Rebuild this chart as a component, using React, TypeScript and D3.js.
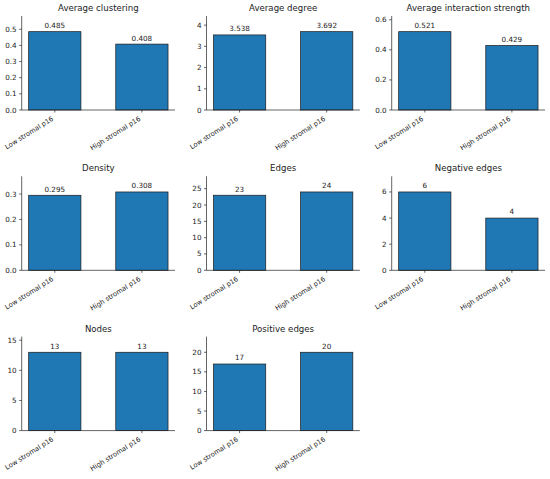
import { useEffect, useRef } from "react"
import * as d3 from "d3"

// One small bar chart per network metric, two groups each
const groups = ["Low stromal p16", "High stromal p16"]
const metrics = [
  "Average clustering",
  "Average degree",
  "Average interaction strength",
  "Density",
  "Edges",
  "Negative edges",
  "Nodes",
  "Positive edges",
]
const lowValues = [0.485, 3.538, 0.521, 0.295, 23, 6, 13, 17]
const highValues = [0.408, 3.692, 0.429, 0.308, 24, 4, 13, 20]
const tickSteps = [0.1, 1, 0.2, 0.1, 5, 2, 5, 5]

const BAR = "#1f77b4"
const INK = "#222"
const FONT = "DejaVu Sans, sans-serif"

export default function App() {
  const ref = useRef<SVGSVGElement>(null)

  useEffect(() => {
    if (!ref.current) return
    const el = ref.current
    d3.select(el).selectAll("*").remove()

    const W = 550
    const H = 479
    const colLeft = [21.7, 206.5, 391.7]
    const rowTop = [16, 176.3, 336.6]
    const plotW = 153.3
    const plotH = 94

    const svg = d3.select(el).attr("width", W).attr("height", H).attr("viewBox", `0 0 ${W} ${H}`)

    metrics.forEach((name, i) => {
      const vals = [lowValues[i], highValues[i]]
      const ox = colLeft[i % 3]
      const oy = rowTop[Math.floor(i / 3)]
      const g = svg.append("g").attr("transform", `translate(${ox},${oy})`)

      // matplotlib-like limits: bars at 0,1 width 0.6, 5% margins; y headroom 20%
      const x = d3.scaleLinear().domain([-0.38, 1.38]).range([0, plotW])
      const ymax = (d3.max(vals) ?? 1) * 1.2
      const y = d3.scaleLinear().domain([0, ymax]).range([plotH, 0])
      const step = tickSteps[i]
      const ticks = d3.range(0, ymax + 1e-9, step)
      const dec = step < 1 ? 1 : 0

      g.selectAll("rect.bar")
        .data(vals)
        .join("rect")
        .attr("class", "bar")
        .attr("x", (_, j) => x(j - 0.3))
        .attr("width", x(0.3) - x(-0.3))
        .attr("y", (d) => y(d))
        .attr("height", (d) => plotH - y(d))
        .attr("fill", BAR)
        .attr("stroke", "#1a1a1a")
        .attr("stroke-width", 0.7)

      // value labels
      g.selectAll("text.val")
        .data(vals)
        .join("text")
        .attr("class", "val")
        .attr("x", (_, j) => x(j))
        .attr("y", (d) => y(d) - 3.6)
        .attr("text-anchor", "middle")
        .attr("font-family", FONT)
        .attr("font-size", 7.2)
        .attr("fill", INK)
        .text((d) => (Number.isInteger(d) ? String(d) : d.toFixed(3)))

      // spines (left + bottom only)
      g.append("line")
        .attr("x1", 0).attr("x2", 0).attr("y1", 0).attr("y2", plotH)
        .attr("stroke", INK).attr("stroke-width", 0.7)
      g.append("line")
        .attr("x1", 0).attr("x2", plotW).attr("y1", plotH).attr("y2", plotH)
        .attr("stroke", INK).attr("stroke-width", 0.7)

      // y ticks
      g.selectAll("line.yt")
        .data(ticks)
        .join("line")
        .attr("class", "yt")
        .attr("x1", -2.5).attr("x2", 0)
        .attr("y1", (t) => y(t)).attr("y2", (t) => y(t))
        .attr("stroke", INK).attr("stroke-width", 0.7)
      g.selectAll("text.yl")
        .data(ticks)
        .join("text")
        .attr("class", "yl")
        .attr("x", -5)
        .attr("y", (t) => y(t))
        .attr("dy", "0.35em")
        .attr("text-anchor", "end")
        .attr("font-family", FONT)
        .attr("font-size", 7.2)
        .attr("fill", INK)
        .text((t) => t.toFixed(dec))

      // x ticks + rotated group labels (30°, right-aligned at the tick)
      g.selectAll("line.xt")
        .data(groups)
        .join("line")
        .attr("class", "xt")
        .attr("x1", (_, j) => x(j)).attr("x2", (_, j) => x(j))
        .attr("y1", plotH).attr("y2", plotH + 2.5)
        .attr("stroke", INK).attr("stroke-width", 0.7)
      g.selectAll("text.xl")
        .data(groups)
        .join("text")
        .attr("class", "xl")
        .attr("transform", (_, j) => `translate(${x(j) - 0.9},${plotH + 10}) rotate(-32)`)
        .attr("text-anchor", "end")
        .attr("font-family", FONT)
        .attr("font-size", 6.7)
        .attr("fill", INK)
        .text((d) => d)

      // title
      g.append("text")
        .attr("x", plotW / 2)
        .attr("y", -5)
        .attr("text-anchor", "middle")
        .attr("font-family", FONT)
        .attr("font-size", 8.6)
        .attr("fill", INK)
        .text(name)
    })
  }, [])

  return (
    <svg
      ref={ref}
      style={{ position: "absolute", left: 0, top: 0, display: "block", background: "#fff" }}
    />
  )
}
